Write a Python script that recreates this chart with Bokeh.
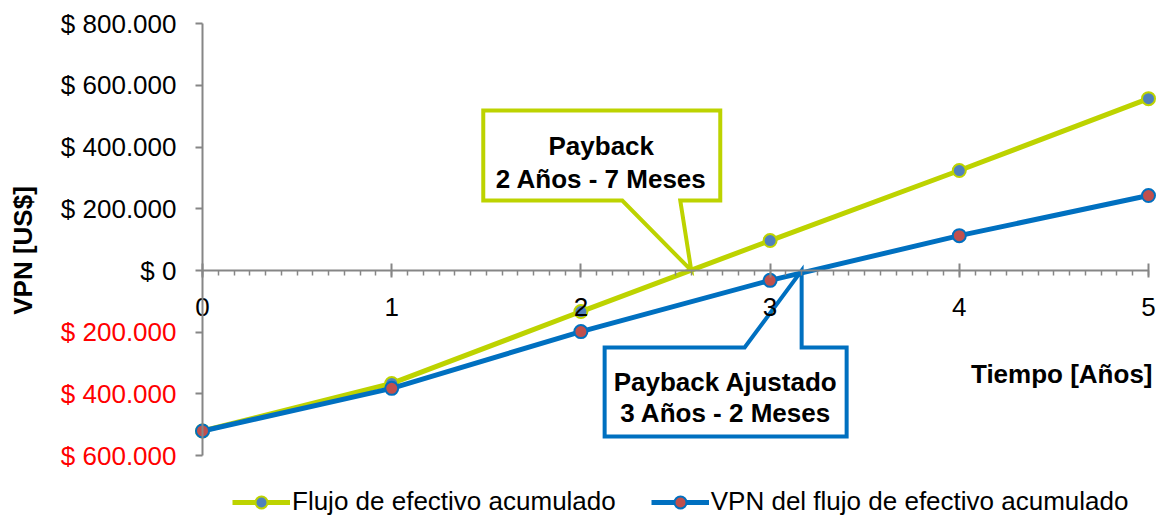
import math
from bokeh.plotting import figure
from bokeh.models import (LinearAxis, FixedTicker, CustomJSTickFormatter, Range1d,
                          Label, Legend, LegendItem)
from bokeh.embed import file_html
from bokeh.resources import INLINE

# ---------------- data ----------------
years = [0, 1, 2, 3, 4, 5]
flujo_acum = [-520000, -366000, -133000, 97000, 324000, 557000]
vpn_acum = [-520000, -382000, -198000, -32000, 113000, 243000]
series_names = ["Flujo de efectivo acumulado", "VPN del flujo de efectivo acumulado"]
y_ticks_pos = [0, 200000, 400000, 600000, 800000]
y_ticks_neg = [-600000, -400000, -200000]
x_ticks = years
x_minor = [k / 12 for k in range(0, 61)]
payback = 2 + 7 / 12
payback_text = ["Payback", "2 Años - 7 Meses"]
payback_adj = 3 + 2 / 12
payback_adj_text = ["Payback Ajustado", "3 Años - 2 Meses"]
x_title = "Tiempo [Años]"
y_title = "VPN [US$]"

# ---------------- layout ----------------
W, H = 1163, 519
X0, PXX = 202.0, 189.2          # canvas px of x=0, px per year
Y0, PXY = 270.0, 61.71 / 200000  # canvas px of y=0, px per dollar
FONT = "Liberation Sans"
GREEN = "#BDD300"
BLUE = "#0070C0"
AXIS = "#868686"

x_range = Range1d(-X0 / PXX, (W - X0) / PXX)
y_range = Range1d(-(H - Y0) / PXY, Y0 / PXY)


def off(x, y, dxp, dyp):
    """data point shifted by pixel offsets (dyp positive = downward)"""
    return x + dxp / PXX, y - dyp / PXY


def to_data(cx, cy):
    return (cx - X0) / PXX, (Y0 - cy) / PXY


p = figure(width=W, height=H, x_range=x_range, y_range=y_range,
           x_axis_type=None, y_axis_type=None, min_border=0,
           toolbar_location=None, output_backend="svg",
           outline_line_color=None, background_fill_color="white")

fmt = CustomJSTickFormatter(code="""
const v = Math.round(Math.abs(tick));
return "$ " + String(v).replace(/\\B(?=(\\d{3})+(?!\\d))/g, ".");
""")

# y axis (positive labels, black)
ya = LinearAxis(ticker=FixedTicker(ticks=y_ticks_pos), formatter=fmt,
                fixed_location=0, bounds=(min(y_ticks_neg), max(y_ticks_pos)))
# y axis (negative labels, red)
yb = LinearAxis(ticker=FixedTicker(ticks=y_ticks_neg), formatter=fmt,
                fixed_location=0, bounds=(min(y_ticks_neg), max(y_ticks_pos)))
for ax, col in ((ya, "black"), (yb, "#FF0000")):
    ax.axis_line_color = AXIS
    ax.axis_line_width = 2
    ax.major_tick_line_color = AXIS
    ax.major_tick_line_width = 2
    ax.major_tick_in = 0
    ax.major_tick_out = 7
    ax.minor_tick_line_color = None
    ax.major_label_text_font = FONT
    ax.major_label_text_font_size = "26px"
    ax.major_label_text_color = col
    ax.major_label_standoff = 19
yb.axis_line_color = None
p.add_layout(ya, "left")
p.add_layout(yb, "left")

xa = LinearAxis(ticker=FixedTicker(ticks=x_ticks, minor_ticks=x_minor),
                fixed_location=0, bounds=(0, 5))
xa.axis_line_color = AXIS
xa.axis_line_width = 2
xa.major_tick_line_color = AXIS
xa.major_tick_line_width = 2
xa.major_tick_in = 7
xa.major_tick_out = 7
xa.minor_tick_line_color = AXIS
xa.minor_tick_line_width = 1.5
xa.minor_tick_in = 0
xa.minor_tick_out = 5
xa.major_label_text_font = FONT
xa.major_label_text_font_size = "26px"
xa.major_label_text_color = "black"
xa.major_label_standoff = 20
p.add_layout(xa, "below")

# series
g_line = p.line(years, flujo_acum, line_color=GREEN, line_width=5)
g_pts = p.scatter(years, flujo_acum, size=13, fill_color="#4F81BD",
                  line_color=GREEN, line_width=2)
b_line = p.line(years, vpn_acum, line_color=BLUE, line_width=5)
b_pts = p.scatter(years, vpn_acum, size=13, fill_color="#C0504D",
                  line_color=BLUE, line_width=2)

# callouts (pixel offsets relative to the payback point)
green_shape = [(-208, -160), (29, -160), (29, -70), (-11, -70), (0, 0), (-69, -70), (-208, -70)]
blue_shape = [(-197, 77), (-57, 77), (0, 0), (0, 77), (45, 77), (45, 166), (-197, 166)]
for (tx, shape, col, texts, cx, ly) in (
        (payback, green_shape, GREEN, payback_text, -90, (-125, -92)),
        (payback_adj, blue_shape, BLUE, payback_adj_text, -76, (111, 142))):
    pts = [off(tx, 0, a, b) for a, b in shape]
    p.patch([q[0] for q in pts], [q[1] for q in pts], fill_color="white",
            line_color=col, line_width=4, line_join="miter")
    for t, yy in zip(texts, ly):
        lx, lyy = off(tx, 0, cx, yy)
        p.add_layout(Label(x=lx, y=lyy, text=t, text_font=FONT, text_font_size="26px",
                           text_font_style="bold", text_align="center",
                           text_baseline="middle", text_color="black"))

# axis titles
tx_, ty_ = to_data(1152, 373)
p.add_layout(Label(x=tx_, y=ty_, text=x_title, text_font=FONT, text_font_size="26px",
                   text_font_style="bold", text_align="right", text_baseline="middle",
                   text_color="black"))
vx_, vy_ = to_data(22, 250)
p.add_layout(Label(x=vx_, y=vy_, text=y_title, text_font=FONT, text_font_size="26px",
                   text_font_style="bold", text_align="center", text_baseline="middle",
                   angle=math.pi / 2, text_color="black"))

legend = Legend(items=[LegendItem(label=series_names[0], renderers=[g_line, g_pts]),
                       LegendItem(label=series_names[1], renderers=[b_line, b_pts])],
                orientation="horizontal", location=(232, 2),
                glyph_width=58, glyph_height=30, label_standoff=2, spacing=35,
                padding=0, margin=0, border_line_color=None, background_fill_alpha=0,
                label_text_font=FONT, label_text_font_size="26px",
                label_text_color="black")
p.add_layout(legend, "center")

open("out.html", "w").write(file_html(p, INLINE))
